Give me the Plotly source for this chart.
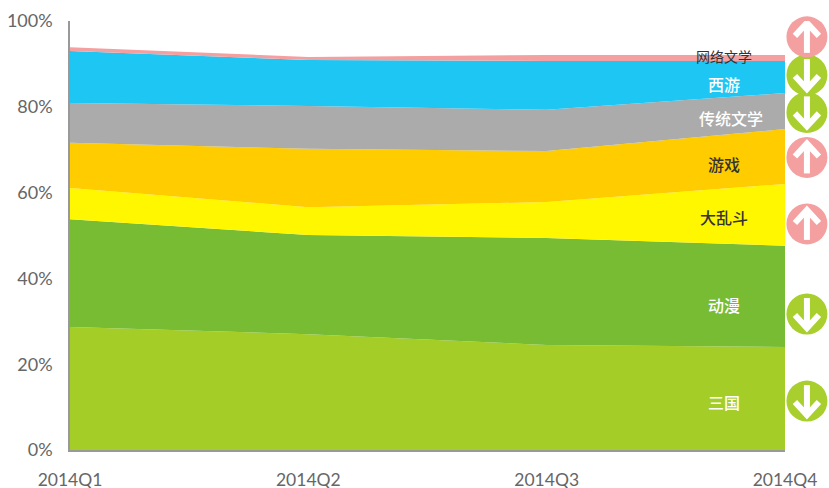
import plotly.graph_objects as go

quarters = ["2014Q1", "2014Q2", "2014Q3", "2014Q4"]
sanguo = [28.7, 27.0, 24.5, 24.0]
dongman = [25.1, 23.1, 24.9, 23.6]
daluandou = [7.3, 6.5, 8.4, 14.4]
youxi = [10.5, 13.6, 11.9, 12.8]
chuantong = [9.3, 10.0, 9.6, 8.4]
xiyou = [12.1, 10.7, 11.4, 7.5]
wangluo = [0.9, 0.7, 1.4, 1.4]

names = ["三国", "动漫", "大乱斗", "游戏", "传统文学", "西游", "网络文学"]
series = [sanguo, dongman, daluandou, youxi, chuantong, xiyou, wangluo]
colors = ["#A4CD28", "#78BC33", "#FFF700", "#FFCC00", "#ABABAB", "#1EC6F4", "#F4A0A0"]
label_x = [2.745, 2.745, 2.745, 2.745, 2.775, 2.745, 2.745]
label_y = [11.2, 33.8, 54.3, 66.6, 77.3, 85.4, 91.9]
label_colors = ["white", "white", "#333333", "#333333", "white", "white", "#333333"]

trend_y = [11.4, 31.7, 52.7, 68.2, 78.7, 87.4, 96.3]
trend_up = [False, False, True, True, False, False, True]

UP = "#F4A0A0"
DOWN = "#A8CF2E"
FONT = "Lato, Carlito, sans-serif"
CJK = "'Noto Sans CJK SC', sans-serif"
PX_X = 238.33
PX_Y = 4.29

fig = go.Figure()
for n, s, c in zip(names, series, colors):
    fig.add_trace(go.Scatter(
        x=list(range(4)), y=s, name=n, stackgroup="a", mode="none",
        fillcolor=c, hoverinfo="skip", showlegend=False,
    ))

bx = 3.092
fig.add_trace(go.Scatter(
    x=[bx] * 7, y=trend_y, mode="markers", xaxis="x2", showlegend=False, cliponaxis=False,
    marker=dict(size=41, color=[UP if u else DOWN for u in trend_up], line=dict(width=0)),
    hoverinfo="skip",
))

ax, ay = [], []
for ty, up in zip(trend_y, trend_up):
    d = 1 if up else -1
    tip = ty + d * 14 / PX_Y
    tail = ty - d * 16 / PX_Y
    arm = ty + d * 1 / PX_Y
    ax += [bx, bx, None, bx - 12 / PX_X, bx, bx + 12 / PX_X, None]
    ay += [tail, tip, None, arm, tip, arm, None]
fig.add_trace(go.Scatter(
    x=ax, y=ay, mode="lines", xaxis="x2", showlegend=False, cliponaxis=False,
    line=dict(color="white", width=6), hoverinfo="skip",
))

for n, lx, ly, lc in zip(names, label_x, label_y, label_colors):
    fig.add_annotation(
        x=lx, y=ly, text=n, showarrow=False,
        font=dict(family=CJK, size=16 if n != "网络文学" else 14, color=lc,
                  weight=500 if n != "网络文学" else 400),
    )

fig.update_layout(
    width=829, height=488, margin=dict(l=70, r=0, t=21, b=38),
    paper_bgcolor="white", plot_bgcolor="rgba(0,0,0,0)", showlegend=False,
    font=dict(family=FONT, size=18, color="#666666"),
    xaxis2=dict(range=[0, 759 / PX_X], domain=[0, 1], anchor="y", visible=False),
)
fig.layout.xaxis.update(
    domain=[0, 715 / 759], range=[0, 3], tickmode="array", tickvals=list(range(4)), ticktext=quarters,
    showgrid=False, zeroline=False, showline=True, linecolor="#999999", linewidth=1.5,
    ticks="outside", ticklen=13, tickcolor="rgba(0,0,0,0)", automargin=False,
    tickfont=dict(family=FONT, size=17.5, color="#666666"),
)
fig.update_yaxes(
    range=[0, 100], tickmode="array", tickvals=[0, 20, 40, 60, 80, 100],
    ticktext=["0%", "20%", "40%", "60%", "80%", "100%"],
    showgrid=False, zeroline=False, showline=True, linecolor="#999999", linewidth=1.5,
    ticks="outside", ticklen=12, tickcolor="rgba(0,0,0,0)", automargin=False,
    tickfont=dict(family=FONT, size=18, color="#666666"),
)
fig.write_html(
    "out.html",
    config={"displayModeBar": False},
    post_script="document.body.style.margin='0';document.documentElement.style.overflow='hidden';",
)
